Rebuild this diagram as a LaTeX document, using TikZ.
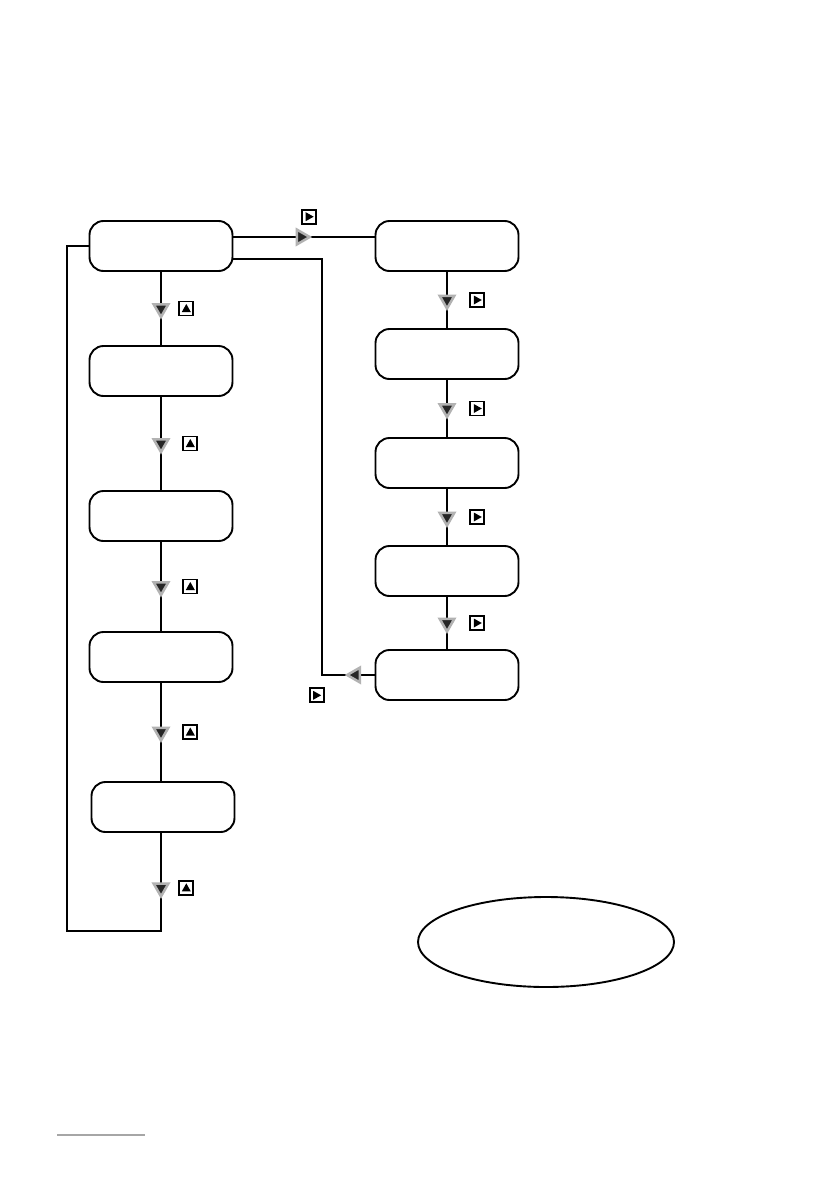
\documentclass[tikz,border=0pt]{standalone}
\usetikzlibrary{shapes.geometric,positioning}
\begin{document}
\begin{tikzpicture}[x=1pt,y=-1pt,
  stepbox/.style={draw,rounded corners=14pt,minimum width=143pt,minimum height=50pt,line width=1.9pt},
  link/.style={line width=1.8pt},
  tip/.style={regular polygon,regular polygon sides=3,fill=black!85,draw=gray!60,line width=2.5pt,minimum size=17pt,inner sep=0pt},
  tipdown/.style={tip,regular polygon rotate=180},
  tipright/.style={tip,regular polygon rotate=-90},
  tipleft/.style={tip,regular polygon rotate=90},
  keybox/.style={draw,line width=1.9pt,minimum size=14pt,inner sep=0pt},
  keyup/.style={keybox,path picture={\fill ([shift={(-4.5pt,-3.5pt)}]path picture bounding box.center) -- ++(9pt,0pt) -- ++(-4.5pt,8pt) -- cycle;}},
  keyright/.style={keybox,path picture={\fill ([shift={(-3.5pt,4.5pt)}]path picture bounding box.center) -- ++(8pt,-4.5pt) -- ++(-8pt,-4.5pt) -- cycle;}}]
  \fill[white] (0,0) rectangle (839,1191);
  \useasboundingbox (0,0) rectangle (839,1191);
  % left column
  \node[stepbox] (L1) at (161,246) {};
  \node[stepbox] (L2) at (161,371) {};
  \node[stepbox] (L3) at (161,516) {};
  \node[stepbox] (L4) at (161,657) {};
  \node[stepbox] (L5) at (163,807) {};
  % right column
  \node[stepbox] (R1) at (447,246) {};
  \node[stepbox] (R2) at (447,354) {};
  \node[stepbox] (R3) at (447,463) {};
  \node[stepbox] (R4) at (447,571) {};
  \node[stepbox] (R5) at (447,675) {};
  \node[draw,ellipse,line width=1.9pt,minimum width=256pt,minimum height=90pt] (fin) at (546,942) {};
  % down the left column
  \draw[link] (L1) -- node[tipdown] (m1) {} (L2);
  \draw[link] (L2) -- node[tipdown] (m2) {} (L3);
  \draw[link] (L3) -- node[tipdown] (m3) {} (L4);
  \draw[link] (L4.south) -- node[tipdown] (m4) {} (L4.south |- L5.north);
  \coordinate (lpb) at (67,931);
  \draw[link] (L4.south |- L5.south) |- node[tipdown,pos=0.28] (m5) {} (lpb) |- (L1.west);
  % across and down the right column
  \draw[link] ([yshift=9pt]L1.east) -- node[tipright,pos=0.48] (m0) {} ([yshift=9pt]R1.west);
  \draw[link] (R1) -- node[tipdown] (m7) {} (R2);
  \draw[link] (R2) -- node[tipdown] (m8) {} (R3);
  \draw[link] (R3) -- node[tipdown] (m9) {} (R4);
  \draw[link] (R4) -- node[tipdown] (m10) {} (R5);
  \coordinate (rtn) at (322,259);
  \draw[link] ([yshift=-13pt]L1.east) -- (rtn) |- node[tipleft,pos=0.82] (m6) {} (R5.west);
  % keys
  \node[keyright,above=6pt of m0,xshift=8pt] (k0) {};
  \node[keyup,right=11pt of m1] (k1) {};
  \node[keyup,right=15pt of m2] (k2) {};
  \node[keyup,right=15pt of m3] (k3) {};
  \node[keyup,right=15pt of m4] (k4) {};
  \node[keyup,right=11pt of m5] (k5) {};
  \node[keyright,below=6pt of m6,xshift=-39pt] (k6) {};
  \node[keyright,right=16pt of m7] (k7) {};
  \node[keyright,right=16pt of m8] (k8) {};
  \node[keyright,right=16pt of m9] (k9) {};
  \node[keyright,right=16pt of m10] (k10) {};
  \draw[gray!70,line width=1.5pt] (57,1135) -- (145,1135);
\end{tikzpicture}
\end{document}
